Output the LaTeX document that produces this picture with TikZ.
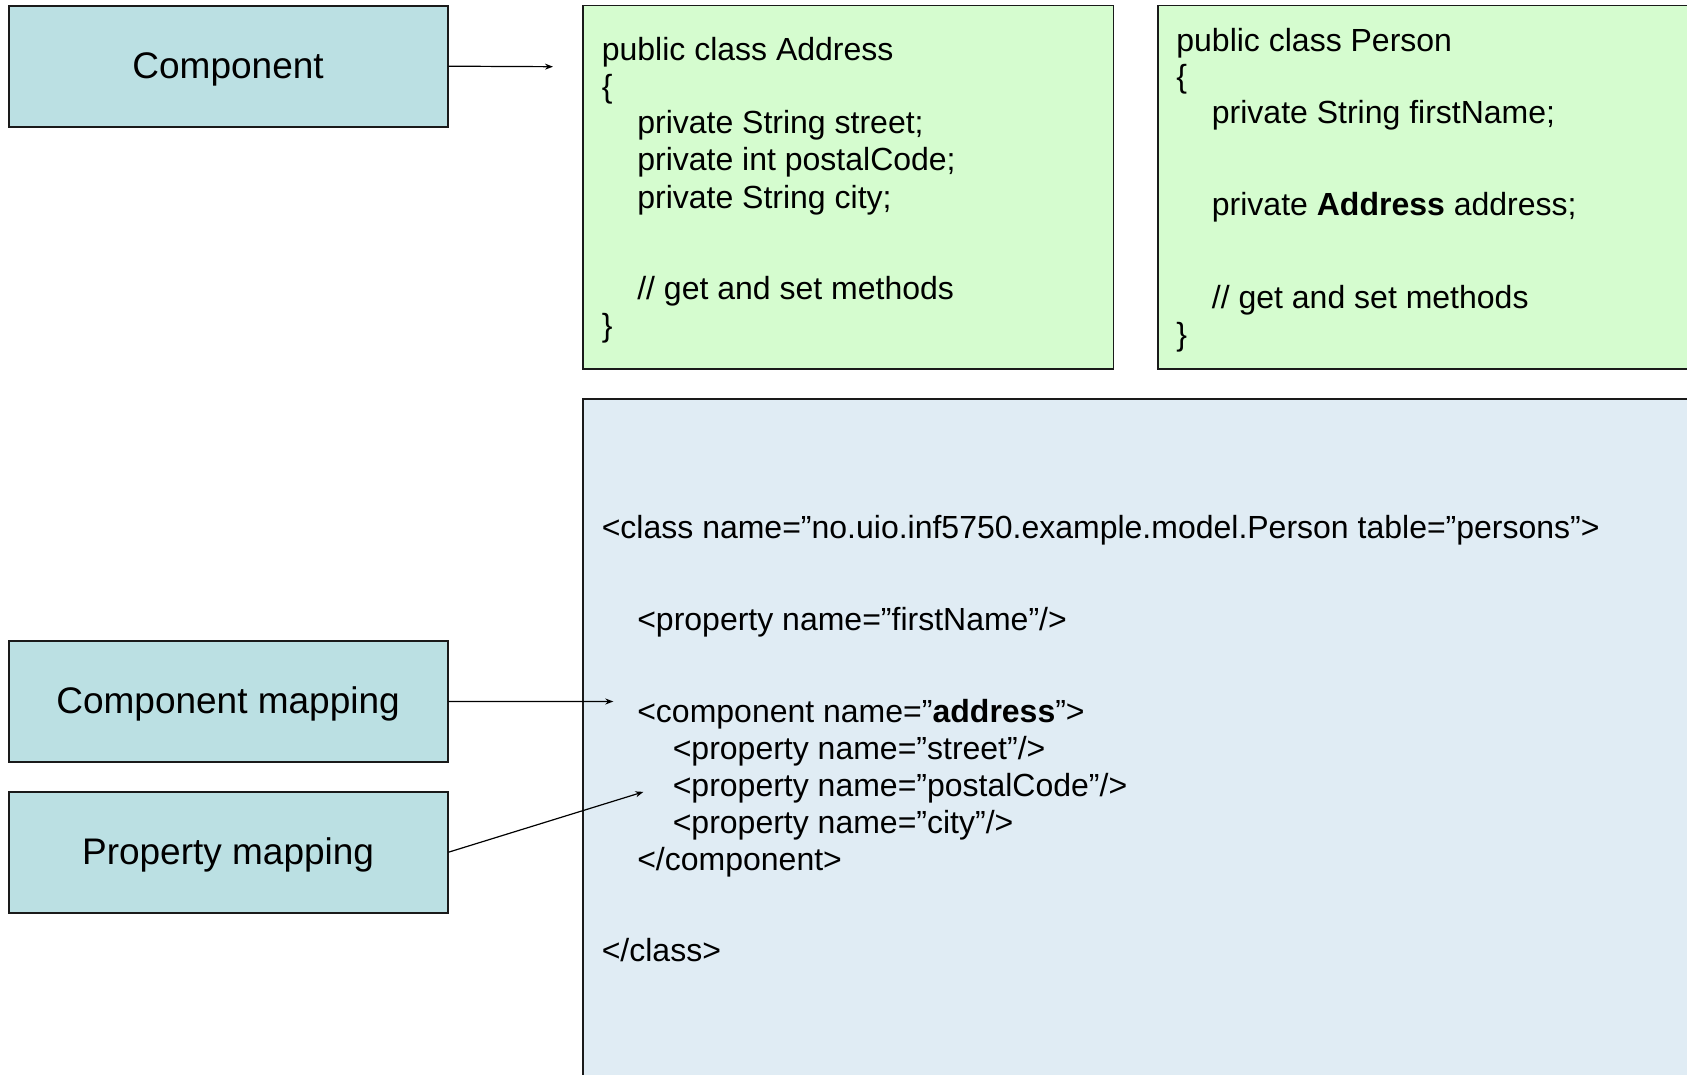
\documentclass[tikz,border=0pt]{standalone}
\usepackage{fontspec}
\setmainfont{Liberation Sans}
\usetikzlibrary{arrows.meta}
\definecolor{labelfill}{HTML}{BBE0E3}
\definecolor{javafill}{HTML}{D5FCCF}
\definecolor{xmlfill}{HTML}{E0ECF4}
\definecolor{edge}{HTML}{1A1A1A}
\tikzset{
  labelbox/.style={draw=edge, line width=0.9pt, fill=labelfill, inner sep=0pt,
    minimum width=219.5pt, minimum height=60.5pt, text depth=0.09em,
    font=\fontsize{18.5}{21}\selectfont},
  javabox/.style={draw=edge, line width=0.8pt, fill=javafill, inner sep=0pt, minimum height=181.8pt},
  xmlbox/.style={draw=edge, line width=0.8pt, fill=xmlfill, inner sep=0pt},
  code/.style={anchor=base west, inner sep=0pt, font=\fontsize{16}{18.4}\selectfont},
  pointer/.style={line width=0.6pt, -{Stealth[length=4pt,width=3pt]}}
}
\begin{document}
\begin{tikzpicture}[x=0.5pt, y=-0.5pt]
\useasboundingbox (0,0) rectangle (1687,1075);
\clip (0,0) rectangle (1687,1075);
\fill[white] (0,0) rectangle (1687,1075);

% Java classes
\node[javabox, minimum width=265.25pt] (addr) at (848.35,187.2) {};
\node[javabox, minimum width=271.15pt] (pers) at (1428.85,187.2) {};

% Mapping file
\node[xmlbox, minimum width=558.45pt, minimum height=345.4pt] (xml) at (1141.55,744.6) {};

% Labels
\node[labelbox] (comp) at (228.1,66.2) {Component};
\node[labelbox] (cmap) at (228.1,701.4) {Component mapping};
\node[labelbox] (pmap) at (228.1,852.2) {Property mapping};

% Address class
\node[code] (a1) at (601.4,61.0) {public class Address};
\node[code] (a2) at (601.4,97.6) {\{};
\node[code] (a3) at (636.9,133.1) {private String street;};
\node[code] (a4) at (636.9,170.7) {private int postalCode;};
\node[code] (a5) at (636.9,208.4) {private String city;};
\node[code] (a6) at (636.9,299.8) {// get and set methods};
\node[code] (a7) at (601.4,336.4) {\}};

% Person class
\node[code] (p1) at (1176.0,51.3) {public class Person};
\node[code] (p2) at (1176.0,87.9) {\{};
\node[code] (p3) at (1211.5,123.4) {private String firstName;};
\node[code] (p4) at (1211.5,215.9) {private \textbf{Address} address;};
\node[code] (p5) at (1211.5,308.5) {// get and set methods};
\node[code] (p6) at (1176.0,345.0) {\}};

% Mapping lines
\node[code] (x1) at (601.4,538.7) {<class name=”no.uio.inf5750.example.model.Person table=”persons”>};
\node[code] (x2) at (636.9,630.1) {<property name=”firstName”/>};
\node[code] (x3) at (636.9,722.7) {<component name=”\textbf{address}”>};
\node[code] (x4) at (672.4,759.3) {<property name=”street”/>};
\node[code] (x5) at (672.4,796.9) {<property name=”postalCode”/>};
\node[code] (x6) at (672.4,833.5) {<property name=”city”/>};
\node[code] (x7) at (636.9,870.1) {</component>};
\node[code] (x8) at (601.4,961.5) {</class>};

% Pointers
\coordinate (compTip) at (553,66.7);
\coordinate (cmapTip) at (613.3,701.5);
\coordinate (pmapTip) at (643.4,791.9);
\draw[pointer] (comp.east) -- (compTip);
\draw[pointer] (cmap.east) -- (cmapTip);
\draw[pointer] (pmap.east) -- (pmapTip);
\end{tikzpicture}
\end{document}
